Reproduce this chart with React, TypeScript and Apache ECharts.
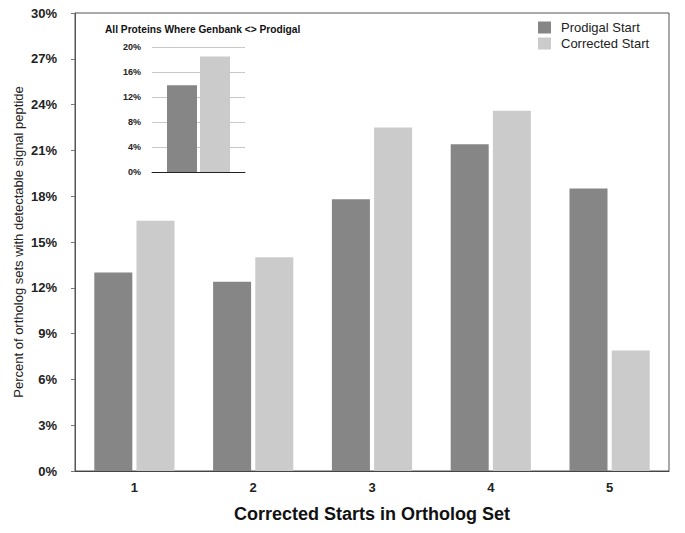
import React, { useEffect, useRef } from "react";
import * as echarts from "echarts";

const categories = ["1", "2", "3", "4", "5"];
const prodigalStart = [13.0, 12.4, 17.8, 21.4, 18.5];
const correctedStart = [16.4, 14.0, 22.5, 23.6, 7.9];
const insetCategories = ["All"];
const insetProdigal = [13.9];
const insetCorrected = [18.5];

const DARK = "#868686";
const LIGHT = "#cbcbcb";
const FONT = "'Liberation Sans', Arial, Helvetica, sans-serif";

export default function App() {
  const ref = useRef<HTMLDivElement>(null);
  useEffect(() => {
    document.body.style.margin = "0";
    if (!ref.current) return;
    const chart = echarts.init(ref.current, undefined, { renderer: "svg" });
    chart.setOption({
      animation: false,
      textStyle: { fontFamily: FONT },
      grid: [
        { left: 75, top: 13, right: 16, bottom: 62, show: true, borderColor: "#555", borderWidth: 1 },
        { left: 152, top: 47, width: 93, height: 125 },
      ],
      legend: {
        orient: "vertical",
        left: 533,
        top: 16,
        itemWidth: 13,
        itemHeight: 12,
        itemGap: 3,
        icon: "rect",
        data: ["Prodigal Start", "Corrected Start"],
        textStyle: { fontSize: 13, color: "#222", fontFamily: FONT, padding: [0, 0, 0, 5] },
      },
      graphic: [
        {
          type: "text",
          left: 105,
          top: 24,
          style: {
            text: "All Proteins Where Genbank <> Prodigal",
            fontSize: 10.2,
            fontWeight: "bold",
            fontFamily: FONT,
            fill: "#111",
          },
        },
      ],
      xAxis: [
        {
          type: "category",
          gridIndex: 0,
          data: categories,
          axisTick: { show: false },
          axisLine: { lineStyle: { color: "#444" } },
          axisLabel: { fontSize: 13, fontWeight: "bold", color: "#222", margin: 10 },
          name: "Corrected Starts in Ortholog Set",
          nameLocation: "middle",
          nameGap: 34,
          nameTextStyle: { fontSize: 18, fontWeight: "bold", color: "#111" },
        },
        {
          type: "category",
          gridIndex: 1,
          data: insetCategories,
          axisTick: { show: false },
          axisLabel: { show: false },
          axisLine: { lineStyle: { color: "#222" } },
        },
      ],
      yAxis: [
        {
          type: "value",
          gridIndex: 0,
          min: 0,
          max: 30,
          interval: 3,
          axisLine: { show: true, lineStyle: { color: "#555" } },
          axisTick: { show: true, length: 4, lineStyle: { color: "#777" } },
          splitLine: { show: false },
          axisLabel: { formatter: "{value}%", fontSize: 13, fontWeight: "bold", color: "#222", margin: 18 },
          name: "Percent of ortholog sets with detectable signal peptide",
          nameLocation: "middle",
          nameGap: 50,
          nameMoveOverlap: false,
          nameTextStyle: { fontSize: 13, color: "#222" },
        },
        {
          type: "value",
          gridIndex: 1,
          min: 0,
          max: 20,
          interval: 4,
          axisLine: { show: false },
          axisTick: { show: false },
          splitLine: { show: true, lineStyle: { color: "#c8c8c8" } },
          axisLabel: { formatter: "{value}%", fontSize: 9, fontWeight: "bold", color: "#222", margin: 11 },
        },
      ],
      series: [
        {
          name: "Prodigal Start",
          type: "bar",
          xAxisIndex: 0,
          yAxisIndex: 0,
          data: prodigalStart,
          barWidth: 38,
          barGap: "11%",
          itemStyle: { color: DARK },
        },
        {
          name: "Corrected Start",
          type: "bar",
          xAxisIndex: 0,
          yAxisIndex: 0,
          data: correctedStart,
          barWidth: 38,
          barGap: "11%",
          itemStyle: { color: LIGHT },
        },
        {
          name: "Prodigal Start",
          type: "bar",
          xAxisIndex: 1,
          yAxisIndex: 1,
          data: insetProdigal,
          barWidth: 30,
          barGap: "10%",
          itemStyle: { color: DARK },
        },
        {
          name: "Corrected Start",
          type: "bar",
          xAxisIndex: 1,
          yAxisIndex: 1,
          data: insetCorrected,
          barWidth: 30,
          barGap: "10%",
          itemStyle: { color: LIGHT },
        },
      ],
    });
    return () => chart.dispose();
  }, []);
  return <div ref={ref} style={{ width: 685, height: 533 }} />;
}
